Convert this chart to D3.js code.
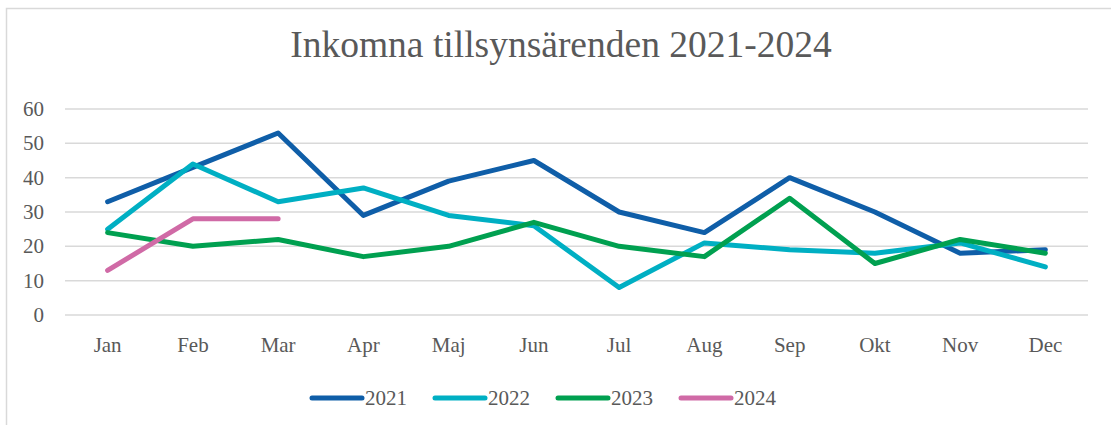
<!DOCTYPE html>
<html>
<head>
<meta charset="utf-8">
<script src="https://cdn.jsdelivr.net/npm/d3@7"></script>
<style>
    body { margin: 0; background: #fff; }
    svg text { font-family: "Liberation Serif", "Times New Roman", serif; fill: #595959; }
</style>
</head>
<body>
<div id="chart"></div>
<script>
// data
const months = ["Jan", "Feb", "Mar", "Apr", "Maj", "Jun", "Jul", "Aug", "Sep", "Okt", "Nov", "Dec"];
const years = ["2021", "2022", "2023", "2024"];
const colors = ["#0f5ea8", "#00afc3", "#00a050", "#d06aa6"];
const values2021 = [33, 43, 53, 29, 39, 45, 30, 24, 40, 30, 18, 19];
const values2022 = [25, 44, 33, 37, 29, 26, 8, 21, 19, 18, 21, 14];
const values2023 = [24, 20, 22, 17, 20, 27, 20, 17, 34, 15, 22, 18];
const values2024 = [13, 28, 28];
const yTicks = [0, 10, 20, 30, 40, 50, 60];

let series = [values2021, values2022, values2023, values2024].map((vals, i) => ({
    year: years[i],
    color: colors[i],
    values: vals.map((v, j) => ({month: months[j], value: v}))
}));

let width = 1111, height = 425;

let svg = d3.select("#chart").append("svg")
    .attr("width", width)
    .attr("height", height);

// outer chart border
svg.append("rect")
    .attr("x", 6.5).attr("y", 8.5)
    .attr("width", width + 20).attr("height", height + 20)
    .attr("fill", "none")
    .attr("stroke", "#d9d9d9")
    .attr("stroke-width", 1.5);

// title
svg.append("text")
    .attr("x", 561)
    .attr("y", 57)
    .attr("text-anchor", "middle")
    .style("font-size", "37.5px")
    .text("Inkomna tillsynsärenden 2021-2024");

let x = d3.scaleBand()
    .domain(months)
    .range([65, 1088]);

let y = d3.scaleLinear()
    .domain([0, 60])
    .range([315, 109]);

// gridlines
svg.append("g")
    .selectAll("line")
    .data(yTicks)
    .enter().append("line")
    .attr("x1", 65).attr("x2", 1088)
    .attr("y1", d => y(d)).attr("y2", d => y(d))
    .attr("stroke", "#d9d9d9")
    .attr("stroke-width", 1.5);

// y labels
svg.append("g")
    .selectAll("text")
    .data(yTicks)
    .enter().append("text")
    .attr("x", 44)
    .attr("y", d => y(d) + 7)
    .attr("text-anchor", "end")
    .style("font-size", "21px")
    .text(d => d);

// x labels
svg.append("g")
    .selectAll("text")
    .data(months)
    .enter().append("text")
    .attr("x", d => x(d) + x.bandwidth() / 2)
    .attr("y", 352)
    .attr("text-anchor", "middle")
    .style("font-size", "21px")
    .text(d => d);

let line = d3.line()
    .x(d => x(d.month) + x.bandwidth() / 2)
    .y(d => y(d.value));

svg.append("g")
    .selectAll("path")
    .data(series)
    .enter().append("path")
    .attr("d", d => line(d.values))
    .attr("fill", "none")
    .attr("stroke", d => d.color)
    .attr("stroke-width", 5)
    .attr("stroke-linejoin", "round")
    .attr("stroke-linecap", "round");

// legend
let legendX = [312, 435, 558, 681];
let legend = svg.append("g")
    .selectAll("g")
    .data(series)
    .enter().append("g")
    .attr("transform", (d, i) => `translate(${legendX[i]}, 398)`);

legend.append("line")
    .attr("x1", 0).attr("x2", 50)
    .attr("y1", 0).attr("y2", 0)
    .attr("stroke", d => d.color)
    .attr("stroke-width", 5)
    .attr("stroke-linecap", "round");

legend.append("text")
    .attr("x", 53)
    .attr("y", 7)
    .style("font-size", "21px")
    .text(d => d.year);
</script>
</body>
</html>
